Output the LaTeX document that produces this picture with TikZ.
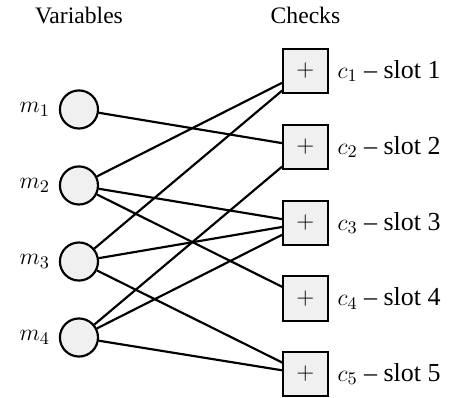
\documentclass[tikz,border=0pt]{standalone}
\usepackage{amsmath}
\usepackage{fontspec}
\setmainfont{Liberation Serif}
\usepackage{tikz}
\usetikzlibrary{calc}
\usetikzlibrary{positioning}

\begin{document}
\begin{tikzpicture}[every node/.style={font=\fontsize{12}{14}\selectfont},
    var/.style={circle,draw,line width=1.1pt,fill=gray!12,minimum size=0.68cm,inner sep=0pt},
    chk/.style={rectangle,draw,line width=1.1pt,fill=gray!12,minimum size=0.79cm,inner sep=0pt},
    lbl/.style={label distance=1pt,font=\fontsize{13.2}{15}\selectfont},
    edge/.style={line width=1.1pt}]
    \useasboundingbox (0,0) rectangle (8.054,-7.107);
    \node (tv) at (1.41,-0.28) {Variables};
    \node (tc) at (5.455,-0.28) {Checks};
    \node[var,label={[lbl]left:$m_1$}] (m1) at (1.41,-1.955) {};
    \node[var,label={[lbl]left:$m_2$}] (m2) at (1.41,-3.312) {};
    \node[var,label={[lbl]left:$m_3$}] (m3) at (1.41,-4.67) {};
    \node[var,label={[lbl]left:$m_4$}] (m4) at (1.41,-6.027) {};
    \node[chk,label={[lbl]right:$c_1$ -- slot 1}] (c1) at (5.455,-1.268) {$+$};
    \node[chk,label={[lbl]right:$c_2$ -- slot 2}] (c2) at (5.455,-2.625) {$+$};
    \node[chk,label={[lbl]right:$c_3$ -- slot 3}] (c3) at (5.455,-3.982) {$+$};
    \node[chk,label={[lbl]right:$c_4$ -- slot 4}] (c4) at (5.455,-5.33) {$+$};
    \node[chk,label={[lbl]right:$c_5$ -- slot 5}] (c5) at (5.455,-6.68) {$+$};
    \draw[edge] (m1) -- (c2);
    \draw[edge] (m2) -- (c1);
    \draw[edge] (m2) -- (c3);
    \draw[edge] (m2) -- (c4);
    \draw[edge] (m3) -- (c1);
    \draw[edge] (m3) -- (c3);
    \draw[edge] (m3) -- (c5);
    \draw[edge] (m4) -- (c2);
    \draw[edge] (m4) -- (c3);
    \draw[edge] (m4) -- (c5);
  \end{tikzpicture}
\end{document}
